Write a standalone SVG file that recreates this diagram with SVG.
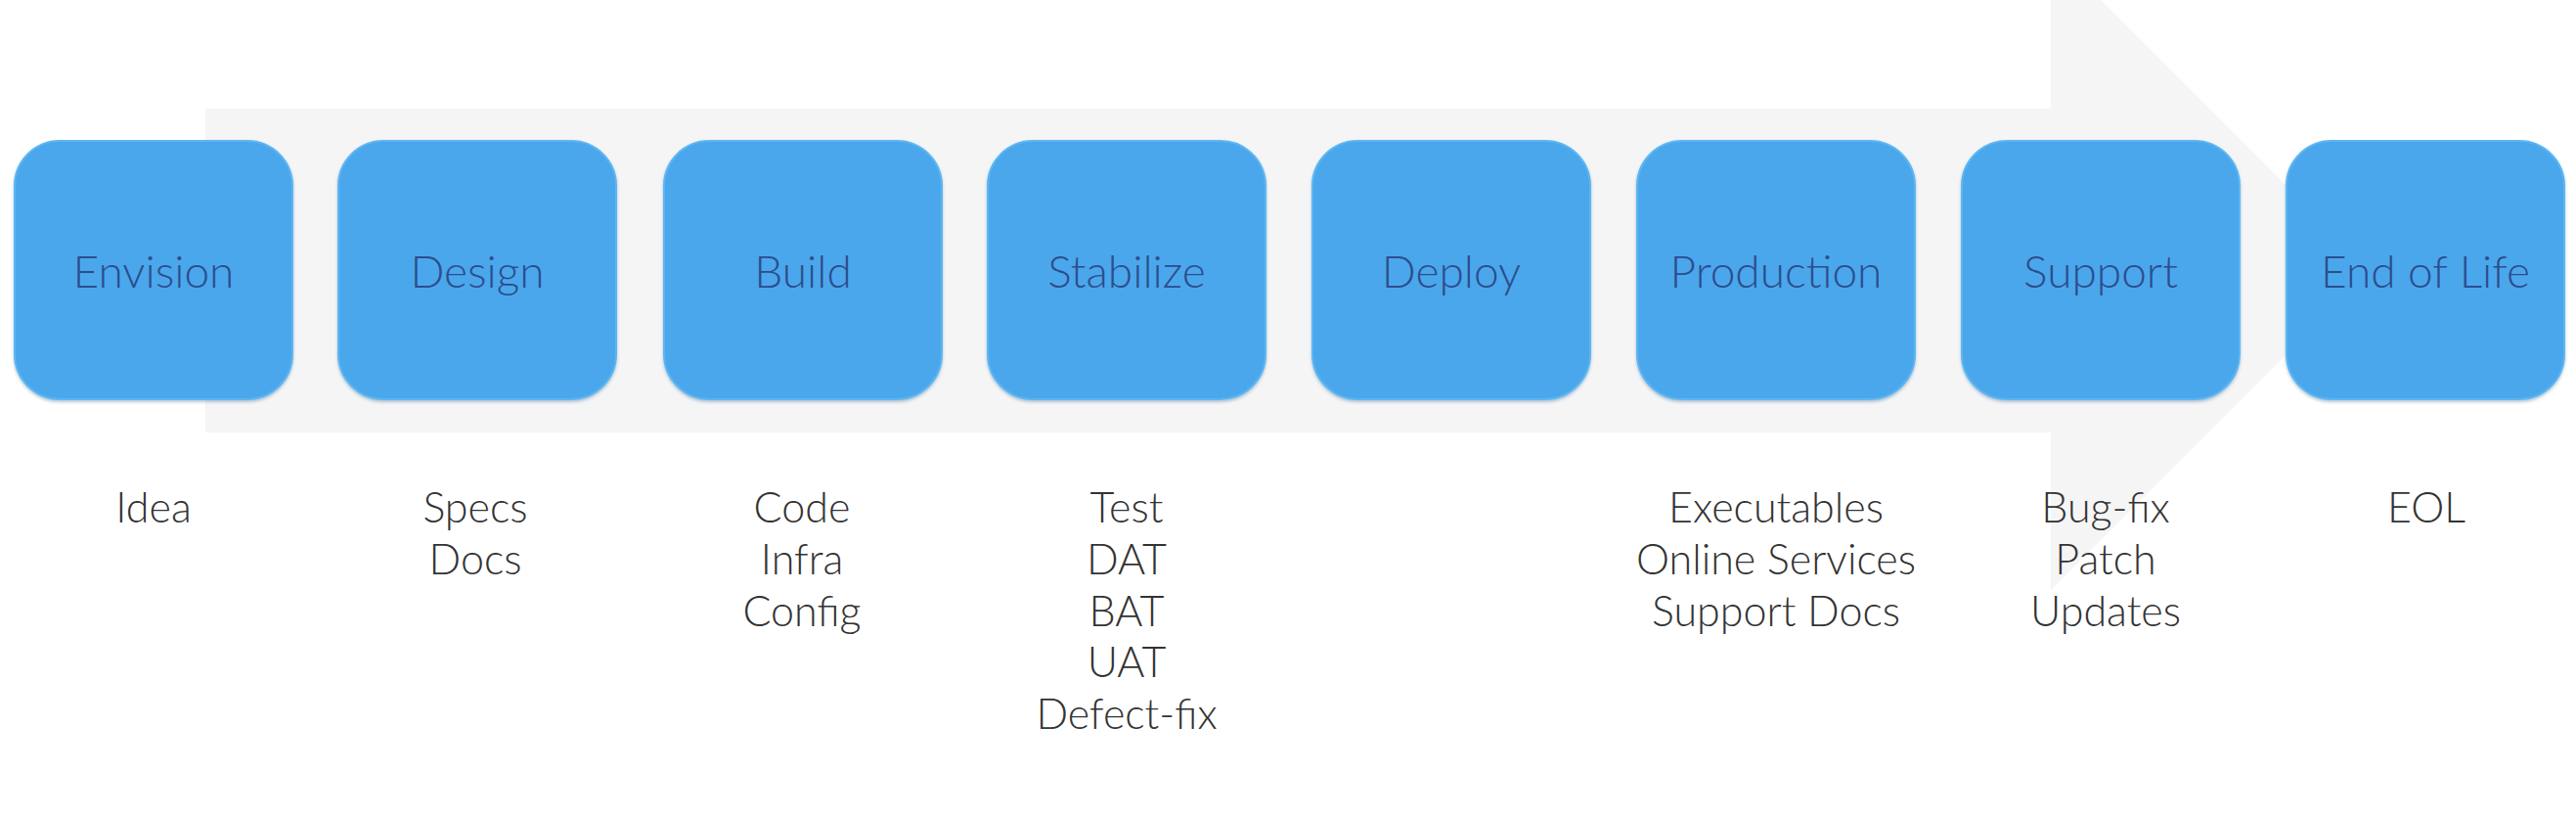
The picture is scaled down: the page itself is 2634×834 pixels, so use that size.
<svg xmlns="http://www.w3.org/2000/svg" width="2634" height="834" viewBox="0 0 2634 834">
<style>
.box{fill:#4ba7eb;stroke:#5cb6f2;stroke-width:2}
.bt{font-family:Lato,"Open Sans",sans-serif;font-weight:300;font-size:46px;fill:#2c4d8e;text-anchor:middle}
.lt{font-family:Lato,"Open Sans",sans-serif;font-weight:300;font-size:43px;fill:#333333;text-anchor:middle}
</style>
<defs>
<filter id="sh" x="-10%" y="-10%" width="120%" height="120%">
<feDropShadow dx="0" dy="2" stdDeviation="1.5" flood-color="#2a5f8f" flood-opacity="0.35"/>
</filter>
</defs>
<rect width="2634" height="834" fill="#ffffff"/>
<g id="connectors">
<polygon points="210,111 2097,111 2097,-51 2424,276 2097,603 2097,442 210,442" fill="#f5f5f6"/>
</g>
<g id="envision"><rect class="box" filter="url(#sh)" x="15" y="144" width="284" height="264" rx="46"/><text class="bt" x="157" y="294">Envision</text><text class="lt" x="157" y="534">Idea</text></g>
<g id="design"><rect class="box" filter="url(#sh)" x="346" y="144" width="284" height="264" rx="46"/><text class="bt" x="488" y="294">Design</text><text class="lt" x="486" y="534">Specs</text><text class="lt" x="486" y="587">Docs</text></g>
<g id="build"><rect class="box" filter="url(#sh)" x="679" y="144" width="284" height="264" rx="46"/><text class="bt" x="821" y="294">Build</text><text class="lt" x="820" y="534">Code</text><text class="lt" x="820" y="587">Infra</text><text class="lt" x="820" y="640">Config</text></g>
<g id="stabilize"><rect class="box" filter="url(#sh)" x="1010" y="144" width="284" height="264" rx="46"/><text class="bt" x="1152" y="294">Stabilize</text><text class="lt" x="1152" y="534">Test</text><text class="lt" x="1152" y="587">DAT</text><text class="lt" x="1152" y="640">BAT</text><text class="lt" x="1152" y="692">UAT</text><text class="lt" x="1152" y="745">Defect-fix</text></g>
<g id="deploy"><rect class="box" filter="url(#sh)" x="1342" y="144" width="284" height="264" rx="46"/><text class="bt" x="1484" y="294">Deploy</text></g>
<g id="production"><rect class="box" filter="url(#sh)" x="1674" y="144" width="284" height="264" rx="46"/><text class="bt" x="1816" y="294">Production</text><text class="lt" x="1816" y="534">Executables</text><text class="lt" x="1816" y="587">Online Services</text><text class="lt" x="1816" y="640">Support Docs</text></g>
<g id="support"><rect class="box" filter="url(#sh)" x="2006" y="144" width="284" height="264" rx="46"/><text class="bt" x="2148" y="294">Support</text><text class="lt" x="2153" y="534">Bug-fix</text><text class="lt" x="2153" y="587">Patch</text><text class="lt" x="2153" y="640">Updates</text></g>
<g id="eol"><rect class="box" filter="url(#sh)" x="2338" y="144" width="284" height="264" rx="46"/><text class="bt" x="2480" y="294">End of Life</text><text class="lt" x="2481" y="534">EOL</text></g>
</svg>
